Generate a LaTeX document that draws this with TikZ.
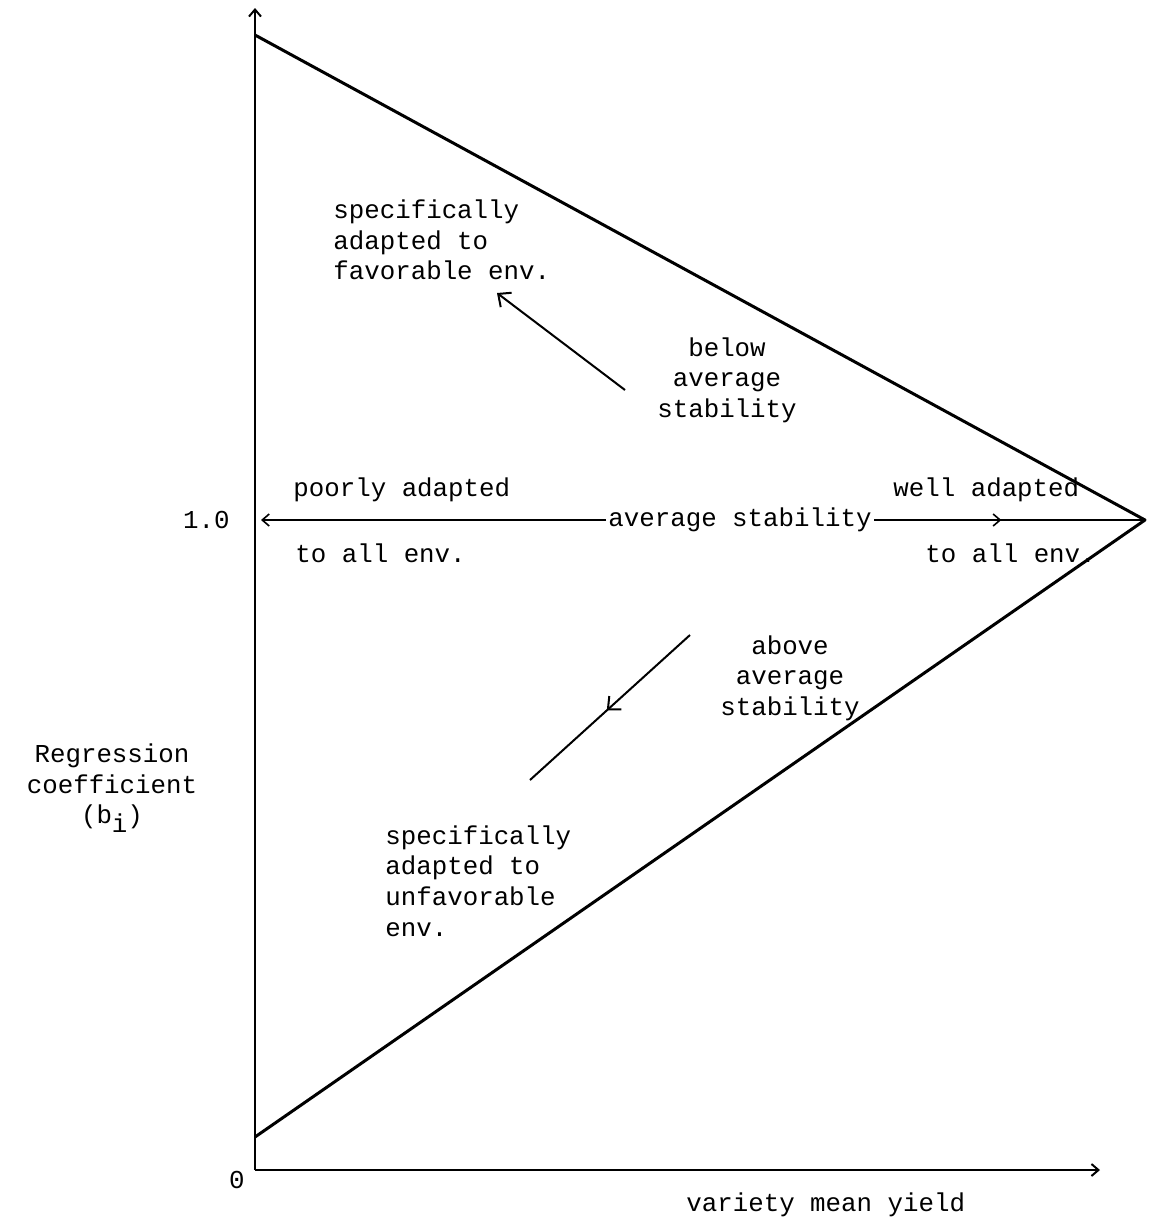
\documentclass[tikz,border=0pt]{standalone}
\usepackage{fontspec}
\setmainfont{Liberation Mono}
\usetikzlibrary{decorations.markings,arrows.meta}

\begin{document}
\begin{tikzpicture}[x=0.5pt,y=-0.5pt,>={Straight Barb[length=3.5pt,width=6pt]},
  lbl/.style={font=\fontsize{12.9}{15.3}\selectfont,inner sep=1pt},
  edge/.style={line width=1.5pt},
  axis/.style={line width=1pt,->},
  bigtip/.style={line width=1pt,>={Straight Barb[length=5pt,width=9pt]}},
  midarrow/.style={postaction={decorate},decoration={markings,mark=at position #1 with {\arrow{>}}}}]
\useasboundingbox (0,0) rectangle (1150,1222);
% axes
\coordinate (O) at (255,1170);
\coordinate (ytip) at (255,8);
\coordinate (xtip) at (1100,1170);
\draw[axis] (O) -- (ytip);
\draw[axis] (O) -- (xtip);
\node[lbl,anchor=east] (one) at (232,520) {1.0};
\node[lbl,anchor=east] (zero) at (247,1180) {0};
\node[lbl,align=center] (ylab) at (112,788) {Regression\\coefficient\\(b\raisebox{-0.6ex}{i})};
\node[lbl,anchor=west] (xlab) at (684,1205) {variety mean yield};
% triangle
\coordinate (top) at (255,35);
\coordinate (tip) at (1145,520);
\coordinate (bot) at (255,1137);
\draw[edge,line join=round] (top) -- (tip) -- (bot);
% average line
\node[lbl] (avg) at (740,520) {average stability};
\coordinate (left) at (261,520);
\draw[line width=0.8pt,->] (avg.west) -- (left);
\draw[line width=0.8pt,midarrow=0.47] (avg.east) -- (tip);
\node[lbl,anchor=west] (poor) at (291,490) {poorly adapted};
\node[lbl,anchor=west] (poor2) at (293,553) {to all env.};
\node[lbl,anchor=west] (well) at (891,490) {well adapted};
\node[lbl,anchor=west] (well2) at (923,553) {to all env.};
% upper region
\node[lbl,align=left,anchor=west] (fav) at (331,240) {specifically\\adapted to\\favorable env.};
\node[lbl,align=center] (below) at (727,380) {below\\average\\stability};
\coordinate (ua) at (625,390);
\coordinate (ub) at (497,293);
\draw[bigtip,->] (ua) -- (ub);
% lower region
\node[lbl,align=center] (above) at (790,678) {above\\average\\stability};
\node[lbl,align=left,anchor=west] (unfav) at (383,881) {specifically\\adapted to\\unfavorable\\env.};
\coordinate (la) at (690,635);
\coordinate (lb) at (530,780);
\draw[bigtip,midarrow=0.52] (la) -- (lb);
\end{tikzpicture}
\end{document}
